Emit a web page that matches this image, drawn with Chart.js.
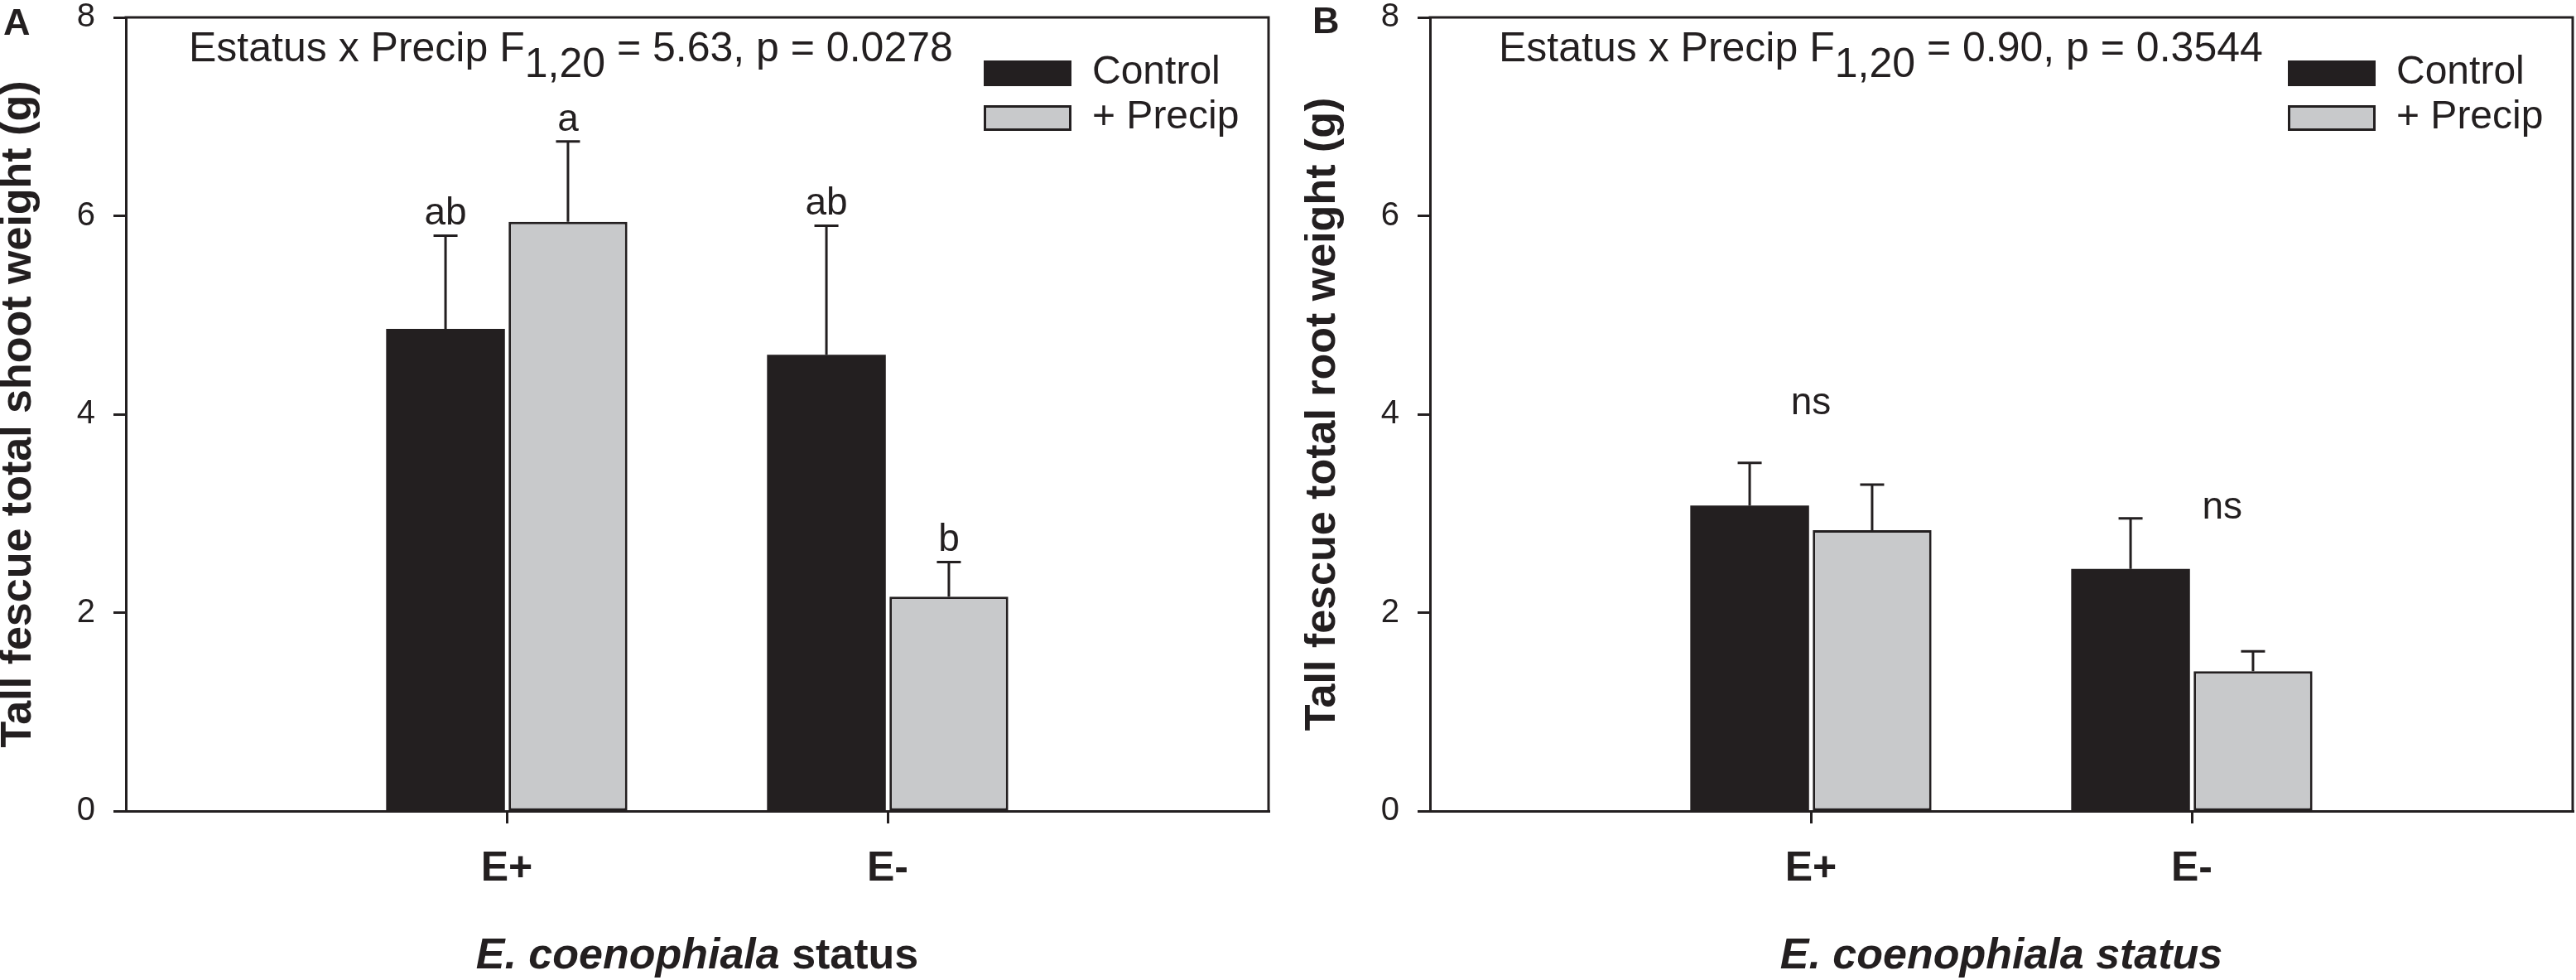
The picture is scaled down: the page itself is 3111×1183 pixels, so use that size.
<!DOCTYPE html>
<html><head><meta charset="utf-8">
<script src="https://cdn.jsdelivr.net/npm/chart.js@4.4.1/dist/chart.umd.min.js"></script>
<style>
html,body{margin:0;padding:0;background:#fff;}
#wrap{position:relative;width:3111px;height:1183px;overflow:hidden;background:#fff;}
.panel{position:absolute;top:0;width:1536px;height:1183px;}
canvas{display:block;}
</style></head><body>
<div id="wrap">
<div class="panel" style="left:0px"><canvas id="cA" width="1536" height="1183" style="width:1536px;height:1183px"></canvas></div>
<div class="panel" style="left:1575px"><canvas id="cB" width="1536" height="1183" style="width:1536px;height:1183px"></canvas></div>
</div>
<script>
// ---------------- data ----------------
const categories = ['', 'E+', 'E-', ''];
const seriesNames = ['Control', '+ Precip'];
const yTickValues = [0, 2, 4, 6, 8];

const shootControl = [null, 4.86, 4.60, null];
const shootControlSE = [null, 0.94, 1.30, null];
const shootControlLetters = [null, 'ab', 'ab', null];
const shootPrecip = [null, 5.94, 2.16, null];
const shootPrecipSE = [null, 0.81, 0.35, null];
const shootPrecipLetters = [null, 'a', 'b', null];

const rootControl = [null, 3.08, 2.44, null];
const rootControlSE = [null, 0.43, 0.51, null];
const rootPrecip = [null, 2.83, 1.41, null];
const rootPrecipSE = [null, 0.46, 0.20, null];
const rootNotes = ['ns', 'ns'];
const rootNoteX = [1.0, 2.08];
const rootNoteY = [4.0, 2.95];

const statShoot = ['1,20', '5.63', '0.0278'];
const statRoot = ['1,20', '0.90', '0.3544'];

// ---------------- style ----------------
const FF = '"Liberation Sans", Arial, Helvetica, sans-serif';
const DARK = '#231f20';
const GRAY = '#c8c9cb';

const decor = {
  id: 'decor',
  afterDraw(chart, args, o) {
    const ctx = chart.ctx, ca = chart.chartArea;
    const xs = chart.scales.x, ys = chart.scales.y;
    ctx.save();
    ctx.fillStyle = DARK; ctx.strokeStyle = DARK;
    // frame (top + right)
    ctx.lineWidth = 3;
    ctx.beginPath();
    ctx.moveTo(ca.left - 1.5, ca.top); ctx.lineTo(ca.right, ca.top); ctx.lineTo(ca.right, ca.bottom + 1.5);
    ctx.stroke();
    // error bars and letters
    chart.data.datasets.forEach((ds, di) => {
      const meta = chart.getDatasetMeta(di);
      ds.data.forEach((v, i) => {
        if (v == null) return;
        const bar = meta.data[i];
        const se = ds.se ? ds.se[i] : null;
        let topY = bar.y;
        if (se != null) {
          topY = ys.getPixelForValue(v + se);
          ctx.lineWidth = 3;
          ctx.beginPath();
          ctx.moveTo(bar.x, bar.y); ctx.lineTo(bar.x, topY);
          ctx.moveTo(bar.x - 14.5, topY); ctx.lineTo(bar.x + 14.5, topY);
          ctx.stroke();
        }
        if (ds.letters && ds.letters[i]) {
          ctx.font = `46px ${FF}`; ctx.textAlign = 'center'; ctx.textBaseline = 'alphabetic';
          ctx.fillText(ds.letters[i], bar.x, topY - 13);
        }
      });
    });
    // free notes
    if (o.notes) {
      ctx.font = `46px ${FF}`; ctx.textAlign = 'center'; ctx.textBaseline = 'alphabetic';
      o.notes.forEach((t, k) => ctx.fillText(t, xs.getPixelForValue(o.noteX[k]), ys.getPixelForValue(o.noteY[k])));
    }
    // statistics text
    {
      let x = ca.left + o.statDx, y = ca.top + 53;
      ctx.font = `50px ${FF}`; ctx.textAlign = 'left'; ctx.textBaseline = 'alphabetic';
      const s1 = 'Estatus x Precip F';
      ctx.fillText(s1, x, y); x += ctx.measureText(s1).width;
      ctx.fillText(o.stat[0], x, y + 19); x += ctx.measureText(o.stat[0]).width;
      ctx.fillText(` = ${o.stat[1]}, p = ${o.stat[2]}`, x, y);
    }
    // legend
    {
      const bl = ca.right - 344, bw = 106, bh = 31;
      const tops = [ca.top + 52, ca.top + 106];
      chart.data.datasets.forEach((ds, di) => {
        const t = tops[di];
        ctx.fillStyle = ds.backgroundColor;
        ctx.fillRect(bl, t, bw, bh);
        if (ds.borderWidth) {
          ctx.lineWidth = 3; ctx.strokeStyle = DARK;
          ctx.strokeRect(bl + 1.5, t + 1.5, bw - 3, bh - 3);
        }
        ctx.fillStyle = DARK;
        ctx.font = `48px ${FF}`; ctx.textAlign = 'left'; ctx.textBaseline = 'middle';
        ctx.fillText(ds.label, bl + 131, t + bh / 2 - 1);
      });
    }
    // x axis title (mixed styles)
    {
      const parts = o.xTitle;
      let total = 0;
      parts.forEach(p => { ctx.font = p.font; total += ctx.measureText(p.text).width; });
      let x = (ca.left + ca.right) / 2 - total / 2;
      const y = ca.bottom + 190;
      ctx.textAlign = 'left'; ctx.textBaseline = 'alphabetic'; ctx.fillStyle = DARK;
      parts.forEach(p => { ctx.font = p.font; ctx.fillText(p.text, x, y); x += ctx.measureText(p.text).width; });
    }
    // panel letter
    ctx.font = `bold 45px ${FF}`; ctx.textAlign = 'left'; ctx.textBaseline = 'alphabetic';
    ctx.fillText(o.letter, o.letterX, o.letterY);
    ctx.restore();
  }
};

function makeChart(id, cfg) {
  const datasets = [
    { label: seriesNames[0], data: cfg.control, se: cfg.controlSE, letters: cfg.controlLetters,
      backgroundColor: DARK, borderWidth: 0 },
    { label: seriesNames[1], data: cfg.precip, se: cfg.precipSE, letters: cfg.precipLetters,
      backgroundColor: GRAY, borderColor: DARK, borderWidth: 3, borderSkipped: false }
  ];
  return new Chart(document.getElementById(id), {
    type: 'bar',
    data: { labels: categories, datasets },
    options: {
      responsive: false, animation: false, devicePixelRatio: 1,
      layout: { padding: { top: 21, right: 4, left: 0, bottom: 0 } },
      datasets: { bar: { categoryPercentage: 0.643, barPercentage: 0.97 } },
      plugins: {
        legend: { display: false }, tooltip: { enabled: false },
        decor: cfg.decor
      },
      scales: {
        x: {
          type: 'category', offset: false,
          grid: { display: true, offset: false, drawOnChartArea: false, drawTicks: true, tickLength: 15, lineWidth: 3,
                  tickWidth: 3, tickColor: c => (c.index === 1 || c.index === 2) ? DARK : 'rgba(0,0,0,0)' },
          border: { display: true, color: DARK, width: 3, z: 1 },
          ticks: { color: DARK, font: { family: FF, size: 50, weight: 'bold', lineHeight: 1.2 },
                   padding: 25, autoSkip: false, maxRotation: 0 },
          afterFit: s => { s.height = 204; s.paddingLeft = 0; s.paddingRight = 0; }
        },
        y: {
          min: 0, max: 8,
          afterBuildTicks: s => { s.ticks = yTickValues.map(v => ({ value: v })); },
          grid: { display: true, drawOnChartArea: false, drawTicks: true, tickLength: 15, tickWidth: 3, tickColor: DARK },
          border: { display: true, color: DARK, width: 3 },
          ticks: { color: DARK, font: { family: FF, size: 40, lineHeight: 1 }, padding: 22 },
          title: { display: true, text: cfg.yTitle, color: DARK,
                   font: { family: FF, size: 52, weight: 'bold', lineHeight: 0.88 }, padding: { top: 0, bottom: 0 } },
          afterFit: s => { s.width = 152; s.paddingTop = 0; s.paddingBottom = 0; }
        }
      }
    },
    plugins: [decor]
  });
}

makeChart('cA', {
  control: shootControl, controlSE: shootControlSE, controlLetters: shootControlLetters,
  precip: shootPrecip, precipSE: shootPrecipSE, precipLetters: shootPrecipLetters,
  yTitle: 'Tall fescue total shoot weight (g)',
  decor: {
    stat: statShoot, statDx: 76, letter: 'A', letterX: 4, letterY: 42,
    xTitle: [ { text: 'E. coenophiala', font: `italic bold 52px ${FF}` }, { text: ' status', font: `bold 52px ${FF}` } ]
  }
});

makeChart('cB', {
  control: rootControl, controlSE: rootControlSE, controlLetters: null,
  precip: rootPrecip, precipSE: rootPrecipSE, precipLetters: null,
  yTitle: 'Tall fescue total root weight (g)',
  decor: {
    stat: statRoot, statDx: 83, letter: 'B', letterX: 10, letterY: 40,
    notes: rootNotes, noteX: rootNoteX, noteY: rootNoteY,
    xTitle: [ { text: 'E. coenophiala status', font: `italic bold 52px ${FF}` } ]
  }
});
</script>
</body></html>
